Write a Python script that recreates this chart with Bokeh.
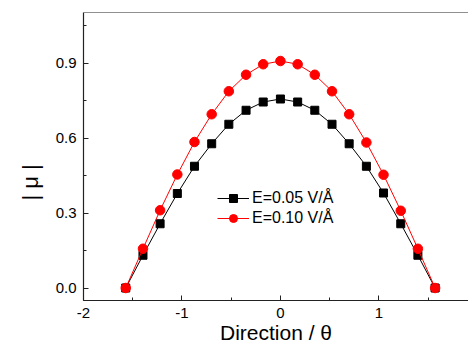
from bokeh.plotting import figure
from bokeh.models import (Range1d, SingleIntervalTicker, PrintfTickFormatter, Title,
                          Span, Legend, LegendItem, ColumnDataSource)
from bokeh.embed import file_html
from bokeh.resources import INLINE

# Data (direction in radians, |mu|)
theta = [-1.571, -1.396, -1.222, -1.047, -0.873, -0.698, -0.524, -0.349, -0.175, 0.0,
         0.175, 0.349, 0.524, 0.698, 0.873, 1.047, 1.222, 1.396, 1.571]
mu_005 = [0.0, 0.131, 0.257, 0.378, 0.487, 0.577, 0.655, 0.711, 0.744, 0.756,
          0.744, 0.711, 0.655, 0.577, 0.487, 0.380, 0.257, 0.131, 0.0]
mu_010 = [0.0, 0.157, 0.311, 0.454, 0.584, 0.695, 0.787, 0.853, 0.895, 0.908,
          0.895, 0.853, 0.787, 0.695, 0.582, 0.453, 0.309, 0.157, 0.0]
labels = ["E=0.05 V/Å", "E=0.10 V/Å"]

FONT = "Liberation Sans"

p = figure(frame_width=385, frame_height=288, output_backend="svg", toolbar_location=None,
           x_range=Range1d(-2, 1.91), y_range=Range1d(-0.05, 1.102),
           min_border_left=83, min_border_right=0, min_border_top=12, min_border_bottom=48)
p.outline_line_color = None
p.xgrid.visible = False
p.ygrid.visible = False
p.background_fill_color = "white"
p.border_fill_color = "white"

src1 = ColumnDataSource(dict(x=theta, y=mu_005))
src2 = ColumnDataSource(dict(x=theta, y=mu_010))

l1 = p.line("x", "y", source=src1, color="black", line_width=1)
s1 = p.scatter("x", "y", source=src1, marker="square", size=8, color="black")
l2 = p.line("x", "y", source=src2, color="red", line_width=1)
s2 = p.scatter("x", "y", source=src2, marker="circle", size=9.5, color="red")

for ax in (p.xaxis[0], p.yaxis[0]):
    ax.axis_line_color = "#222222"
    ax.axis_line_width = 1.2
    ax.major_tick_line_color = "#222222"
    ax.minor_tick_line_color = "#222222"
    ax.major_tick_in = 5
    ax.major_tick_out = 0
    ax.minor_tick_in = 3
    ax.minor_tick_out = 0
    ax.major_label_text_font = FONT
    ax.major_label_text_font_size = "15px"
    ax.major_label_text_color = "black"
    ax.major_label_standoff = 8
    ax.axis_label_text_font = FONT
    ax.axis_label_text_font_style = "normal"
    ax.axis_label_text_color = "black"

p.xaxis[0].ticker = SingleIntervalTicker(interval=1, num_minor_ticks=2)
p.xaxis[0].formatter = PrintfTickFormatter(format="%d")
p.xaxis[0].axis_label = "Direction / θ"
p.xaxis[0].axis_label_text_font_size = "21px"
p.xaxis[0].axis_label_standoff = 0
p.xaxis[0].major_label_standoff = 7

p.yaxis[0].ticker = SingleIntervalTicker(interval=0.3, num_minor_ticks=2)
p.yaxis[0].formatter = PrintfTickFormatter(format="%.1f")
p.yaxis[0].major_label_standoff = 7

ytitle = Title(text="| μ |", align="left", offset=100, text_font=FONT,
               text_font_size="22px", text_font_style="normal", text_color="black",
               standoff=19)
p.add_layout(ytitle, "left")

top = Span(location=1.102, dimension="width", line_color="#222222", line_width=1.2)
p.add_layout(top)

legend = Legend(items=[LegendItem(label=labels[0], renderers=[l1, s1]),
                       LegendItem(label=labels[1], renderers=[l2, s2])],
                location=(134, 72), padding=0, margin=0, spacing=0,
                glyph_width=32, glyph_height=20, label_height=20, label_standoff=3,
                border_line_color=None, background_fill_alpha=0,
                label_text_font=FONT, label_text_font_size="16px", label_text_color="black")
p.add_layout(legend)

open("out.html", "w").write(file_html(p, INLINE))
